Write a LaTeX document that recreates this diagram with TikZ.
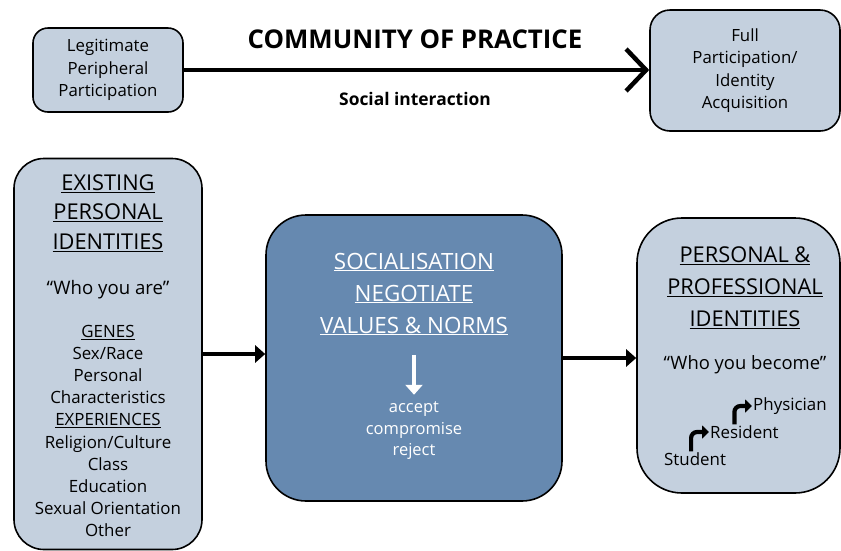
\documentclass[tikz,border=0pt]{standalone}
\usepackage{fontspec}
\setmainfont{Open Sans}
\usetikzlibrary{positioning,arrows.meta}

\definecolor{paleBlue}{RGB}{196,208,222}
\definecolor{midBlue}{RGB}{102,137,176}
\newcommand{\fsz}[2]{\fontsize{#1}{#2}\selectfont}

\begin{document}
\begin{tikzpicture}[
    x=1pt, y=-1pt,
    box/.style={%
      draw,
      rectangle,
      line width=1.6pt,
      fill=paleBlue,
      inner sep=0pt,
      align=center,
      font=\fsz{16.8}{22.3},
    },
    head/.style={align=center, font=\fsz{21.8}{29.5}},
    txt/.style={align=center, font=\fsz{16.9}{22.1}},
    turn/.style={line width=4.2pt, rounded corners=6pt, -{Triangle[length=7pt,width=13pt]}},
    link/.style={line width=4pt, -{Triangle[length=10pt,width=17pt]}},
  ]
    \useasboundingbox (0,0) rectangle (841,550);

    % boxes
    \node [box, rounded corners=15pt, minimum width=150pt, minimum height=84pt] (lpp) at (108,70)
      {Legitimate\\Peripheral\\Participation};
    \node [box, rounded corners=20pt, minimum width=190pt, minimum height=121pt] (fpi) at (745,70.5)
      {Full\\Participation/\\Identity\\Acquisition};
    \node [box, rounded corners=30pt, minimum width=188pt, minimum height=391pt] (epi) at (108,354) {};
    \node [box, rounded corners=40pt, fill=midBlue, minimum width=296pt, minimum height=286pt] (soc) at (414,358) {};
    \node [box, rounded corners=45pt, minimum width=203pt, minimum height=275pt] (ppi) at (738.5,355.5) {};

    % titles of the top arrow
    \node [font=\fsz{25.8}{30}\bfseries] (cop) at (415,39) {COMMUNITY OF PRACTICE};
    \node [font=\fsz{17.4}{20}\bfseries] (si) at (415,99) {Social interaction};

    % existing identities
    \node [head] (epiHead) at (108,213) {\underline{EXISTING}\\\underline{PERSONAL}\\\underline{IDENTITIES}};
    \node [txt, font=\fsz{18.6}{22}] (epiQuote) at (108,290) {“Who you are”};
    \node [txt] (epiBody) at (108,431) {\underline{GENES}\\Sex/Race\\Personal\\Characteristics\\
      \underline{EXPERIENCES}\\Religion/Culture\\Class\\Education\\Sexual Orientation\\Other};

    % socialisation
    \node [head, text=white, font=\fsz{22.4}{32}] (socHead) at (414,294)
      {\underline{SOCIALISATION}\\\underline{NEGOTIATE}\\\underline{VALUES \& NORMS}};
    \node [txt, text=white, font=\fsz{16.5}{21.5}] (socBody) at (414,431) {accept\\compromise\\reject};
    \draw [white, link] (socHead.south) ++(0,16) coordinate (dTop) -- ++(0,40) coordinate (dEnd);

    % professional identities
    \node [head, font=\fsz{21.8}{32}] (ppiHead) at (745,288)
      {\underline{PERSONAL \&}\\\underline{PROFESSIONAL}\\\underline{IDENTITIES}};
    \node [txt, font=\fsz{18.4}{22}] (ppiQuote) at (745,365) {“Who you become”};
    \node [txt, anchor=west, inner sep=1pt] (phy) at (752,406) {Physician};
    \node [txt, anchor=west, inner sep=1pt] (res) at (709,432) {Resident};
    \node [txt, anchor=west, inner sep=1pt] (stu) at (663,459) {Student};

    \draw [turn] ([xshift=-4pt]stu.north) |- (res.west);
    \draw [turn] ([xshift=-10pt]res.north) |- (phy.west);

    % connectors
    \draw [line width=4.5pt, -{Straight Barb[length=20pt,width=42pt]}] (lpp.east) -- (lpp.east -| fpi.west);
    \draw [link] (epi.east) -- (epi.east -| soc.west);
    \draw [link] (soc.east) -- (soc.east -| ppi.west);
\end{tikzpicture}
\end{document}
